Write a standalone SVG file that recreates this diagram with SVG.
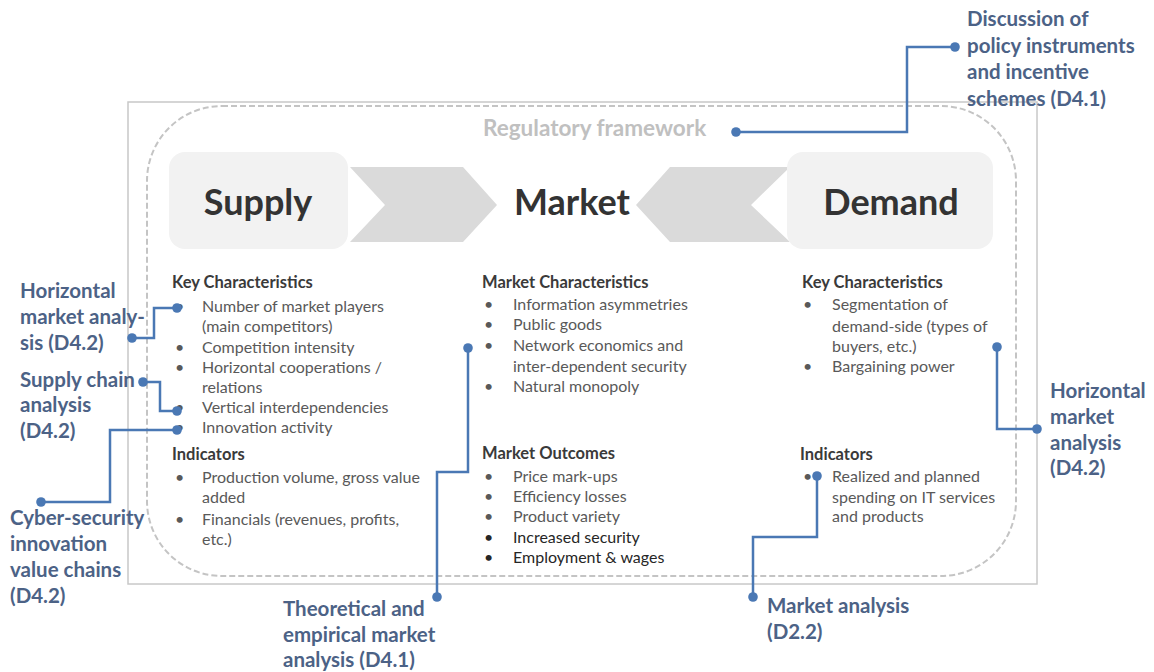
<svg xmlns="http://www.w3.org/2000/svg" width="1154" height="672" viewBox="0 0 1154 672">
<style>
.body{font-family:Lato,"Open Sans",sans-serif;font-size:16px;fill:#595959}
.dark{fill:#262626}
.hdr{font-family:Lato,"Open Sans",sans-serif;font-size:16.5px;font-weight:bold;fill:#3a3a3a}
.title{font-family:Lato,"Open Sans",sans-serif;font-size:36px;font-weight:bold;fill:#333333}
.lbl{font-family:Lato,"Open Sans",sans-serif;font-size:20.5px;font-weight:bold;fill:#4c6286}
.reg{font-family:Lato,"Open Sans",sans-serif;font-size:22.5px;font-weight:bold;fill:#c0c0c0}
.box{fill:#f2f2f2}
.chev{fill:#dadada}
.conn{fill:none;stroke:#4a78b4;stroke-width:2.5}
.dot{fill:#4a78b4}
</style>
<rect width="1154" height="672" fill="#ffffff"/>
<g id="frame">
<rect x="128" y="102" width="909" height="482" fill="none" stroke="#c8c8c8" stroke-width="1.5"/>
<rect x="147" y="106" width="869" height="470" rx="75" ry="75" fill="none" stroke="#c4c4c4" stroke-width="2" stroke-dasharray="6 3"/>
<text class="reg" x="483" y="136">Regulatory framework</text>
</g>
<g id="supply">
<polygon class="chev" points="350,167 463,167 497,205 463,242 350,242 385,205"/>
<rect class="box" x="169" y="152" width="179" height="97" rx="16"/>
<text class="title" x="258" y="215" text-anchor="middle">Supply</text>
</g>
<g id="market">
<text class="title" x="572" y="215" text-anchor="middle">Market</text>
</g>
<g id="demand">
<polygon class="chev" points="636,205 670,167 790,167 751,205 790,242 670,242"/>
<rect class="box" x="787" y="152" width="206" height="97" rx="16"/>
<text class="title" x="891" y="215" text-anchor="middle">Demand</text>
</g>
<g id="supply-details">
<text class="hdr" x="172" y="288">Key Characteristics</text>
<text class="body" x="175" y="312">•</text><text class="body" x="202" y="312">Number of market players</text>
<text class="body" x="202" y="332">(main competitors)</text>
<text class="body" x="175" y="353">•</text><text class="body" x="202" y="353">Competition intensity</text>
<text class="body" x="175" y="373">•</text><text class="body" x="202" y="373">Horizontal cooperations /</text>
<text class="body" x="202" y="393">relations</text>
<text class="body" x="175" y="413">•</text><text class="body" x="202" y="413">Vertical interdependencies</text>
<text class="body" x="175" y="433">•</text><text class="body" x="202" y="433">Innovation activity</text>
<text class="hdr" x="172" y="460">Indicators</text>
<text class="body" x="175" y="483">•</text><text class="body" x="202" y="483">Production volume, gross value</text>
<text class="body" x="202" y="503">added</text>
<text class="body" x="175" y="525">•</text><text class="body" x="202" y="525">Financials (revenues, profits,</text>
<text class="body" x="202" y="545">etc.)</text>
</g>
<g id="market-details">
<text class="hdr" x="482" y="288">Market Characteristics</text>
<text class="body" x="484" y="310">•</text><text class="body" x="513" y="310">Information asymmetries</text>
<text class="body" x="484" y="330">•</text><text class="body" x="513" y="330">Public goods</text>
<text class="body" x="484" y="351">•</text><text class="body" x="513" y="351">Network economics and</text>
<text class="body" x="513" y="372">inter-dependent security</text>
<text class="body" x="484" y="392">•</text><text class="body" x="513" y="392">Natural monopoly</text>
<text class="hdr" x="482" y="459">Market Outcomes</text>
<text class="body" x="484" y="482">•</text><text class="body" x="513" y="482">Price mark-ups</text>
<text class="body" x="484" y="502">•</text><text class="body" x="513" y="502">Efficiency losses</text>
<text class="body" x="484" y="522">•</text><text class="body" x="513" y="522">Product variety</text>
<text class="body dark" x="484" y="543">•</text><text class="body dark" x="513" y="543">Increased security</text>
<text class="body dark" x="484" y="563">•</text><text class="body dark" x="513" y="563">Employment &amp; wages</text>
</g>
<g id="demand-details">
<text class="hdr" x="802" y="288">Key Characteristics</text>
<text class="body" x="803" y="310">•</text><text class="body" x="832" y="310">Segmentation of</text>
<text class="body" x="832" y="332">demand-side (types of</text>
<text class="body" x="832" y="352">buyers, etc.)</text>
<text class="body" x="803" y="372">•</text><text class="body" x="832" y="372">Bargaining power</text>
<text class="hdr" x="800" y="460">Indicators</text>
<text class="body" x="803" y="482">•</text><text class="body" x="832" y="482">Realized and planned</text>
<text class="body" x="832" y="503">spending on IT services</text>
<text class="body" x="832" y="522">and products</text>
</g>
<g id="connectors">
<path class="conn" d="M736,132 H907 V47 H955"/>
<circle class="dot" cx="736" cy="132" r="4.8"/><circle class="dot" cx="955" cy="47" r="4.8"/>
<path class="conn" d="M132,338 H154 V308 H177"/>
<circle class="dot" cx="132" cy="338" r="4.8"/><circle class="dot" cx="177" cy="308" r="4.8"/>
<path class="conn" d="M143,382 H160 V411 H177"/>
<circle class="dot" cx="143" cy="382" r="4.8"/><circle class="dot" cx="177" cy="411" r="4.8"/>
<path class="conn" d="M41,502 H110 V430 H177"/>
<circle class="dot" cx="41" cy="502" r="4.8"/><circle class="dot" cx="177" cy="430" r="4.8"/>
<path class="conn" d="M468,348 V472 H437 V597"/>
<circle class="dot" cx="468" cy="348" r="4.8"/><circle class="dot" cx="437" cy="597" r="4.8"/>
<path class="conn" d="M997,347 V429 H1037"/>
<circle class="dot" cx="997" cy="347" r="4.8"/><circle class="dot" cx="1037" cy="429" r="4.8"/>
<path class="conn" d="M817,476 V537 H753 V597"/>
<circle class="dot" cx="817" cy="476" r="4.8"/><circle class="dot" cx="753" cy="597" r="4.8"/>
</g>
<g id="label-policy">
<text class="lbl" x="967" y="26">Discussion of</text>
<text class="lbl" x="967" y="53">policy instruments</text>
<text class="lbl" x="967" y="79">and incentive</text>
<text class="lbl" x="967" y="106">schemes (D4.1)</text>
</g>
<g id="label-horizontal-left">
<text class="lbl" x="20" y="298">Horizontal</text>
<text class="lbl" x="20" y="324">market analy-</text>
<text class="lbl" x="20" y="350">sis (D4.2)</text>
</g>
<g id="label-supply-chain">
<text class="lbl" x="20" y="387">Supply chain</text>
<text class="lbl" x="20" y="412">analysis</text>
<text class="lbl" x="20" y="438">(D4.2)</text>
</g>
<g id="label-cyber">
<text class="lbl" x="10" y="525">Cyber-security</text>
<text class="lbl" x="10" y="551">innovation</text>
<text class="lbl" x="10" y="577">value chains</text>
<text class="lbl" x="10" y="603">(D4.2)</text>
</g>
<g id="label-theoretical">
<text class="lbl" x="283" y="616">Theoretical and</text>
<text class="lbl" x="283" y="642">empirical market</text>
<text class="lbl" x="283" y="667">analysis (D4.1)</text>
</g>
<g id="label-horizontal-right">
<text class="lbl" x="1050" y="398">Horizontal</text>
<text class="lbl" x="1050" y="424">market</text>
<text class="lbl" x="1050" y="450">analysis</text>
<text class="lbl" x="1050" y="475">(D4.2)</text>
</g>
<g id="label-market-analysis">
<text class="lbl" x="767" y="613">Market analysis</text>
<text class="lbl" x="767" y="639">(D2.2)</text>
</g>
</svg>
